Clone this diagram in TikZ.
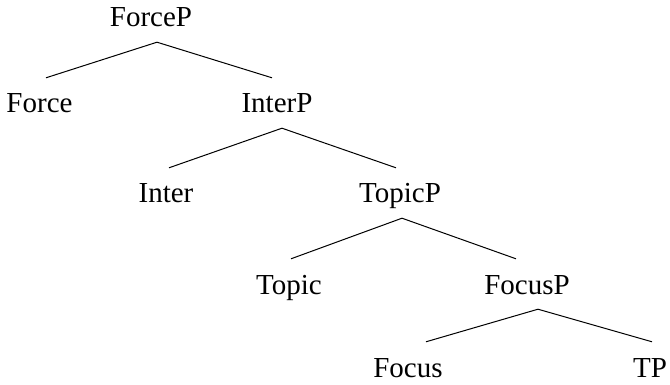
\documentclass[tikz,border=0pt]{standalone}
\usepackage{fontspec}
\setmainfont{Liberation Serif}
\usepackage{tikz}

\begin{document}
\begin{tikzpicture}[
    x=1pt, y=-1pt,
    cat/.style={font=\fontsize{29}{32}\selectfont, anchor=base, text height=20pt, text depth=0pt, inner xsep=0pt, inner ysep=15pt},
    branch/.style={line width=1pt}
]
\useasboundingbox (0,0) rectangle (670,385);

\node[cat] (ForceP) at (151,27) {ForceP};
\node[cat] (Force) at (39.5,113) {Force};
\node[cat] (InterP) at (277,113) {InterP};
\node[cat] (Inter) at (166,203) {Inter};
\node[cat] (TopicP) at (400,203) {TopicP};
\node[cat] (Topic) at (289,294) {Topic};
\node[cat] (FocusP) at (527,294) {FocusP};
\node[cat] (Focus) at (408,377) {Focus};
\node[cat] (TP) at (650,377) {TP};

\draw[branch] ([xshift=6pt]ForceP.south) -- ([xshift=6.5pt]Force.north);
\draw[branch] ([xshift=6pt]ForceP.south) -- ([xshift=-5pt]InterP.north);
\draw[branch] ([xshift=5pt]InterP.south) -- ([xshift=3pt]Inter.north);
\draw[branch] ([xshift=5pt]InterP.south) -- ([xshift=-4pt]TopicP.north);
\draw[branch] ([xshift=2pt]TopicP.south) -- ([xshift=2pt]Topic.north);
\draw[branch] ([xshift=2pt]TopicP.south) -- ([xshift=-11pt]FocusP.north);
\draw[branch] ([xshift=11pt]FocusP.south) -- ([xshift=18pt]Focus.north);
\draw[branch] ([xshift=11pt]FocusP.south) -- ([xshift=2pt]TP.north);
\end{tikzpicture}
\end{document}
